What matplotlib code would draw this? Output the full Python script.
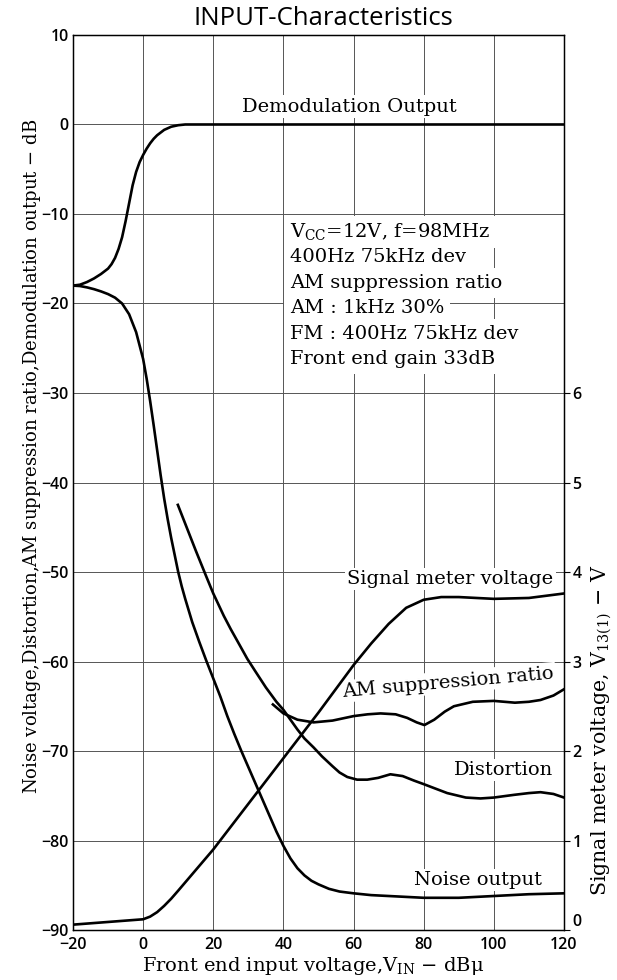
import matplotlib
matplotlib.use("Agg")
import matplotlib.pyplot as plt

plt.rcParams['mathtext.fontset'] = 'dejavuserif'

# front end input voltage V_IN (dBu) and curves in dB
demod_x = [-20, -18, -16, -14, -12, -10, -9, -8, -7, -6, -5, -4, -3, -2, -1, 0, 1, 2, 3,
           4, 6, 8, 10, 12, 120]
demod_db = [-18, -17.9, -17.6, -17.2, -16.7, -16.1, -15.6, -14.9, -13.9, -12.6, -10.8,
            -8.8, -6.8, -5.3, -4.2, -3.4, -2.7, -2.1, -1.6, -1.2, -0.6, -0.25, -0.08, 0, 0]

noise_x = [-20, -18, -16, -14, -12, -10, -8, -6, -4, -2, 0, 1, 2, 3, 4, 5, 6, 7, 8, 10,
           11, 12, 14, 16, 18, 20, 22, 24, 26, 28, 30, 32, 34, 36, 38, 40, 42, 44, 46,
           48, 50, 53, 56, 60, 65, 70, 80, 90, 100, 110, 120]
noise_db = [-18, -18.05, -18.2, -18.4, -18.65, -18.95, -19.35, -20, -21.2, -23.2, -26.2,
            -28.4, -30.9, -33.6, -36.4, -39.2, -41.8, -44.1, -46.2, -50, -51.6, -53,
            -55.6, -57.8, -59.9, -61.9, -63.9, -66.1, -68.1, -70, -71.8, -73.6, -75.4,
            -77.2, -79, -80.6, -82, -83.1, -83.9, -84.5, -84.9, -85.4, -85.7, -85.9,
            -86.1, -86.2, -86.4, -86.4, -86.2, -86, -85.9]

dist_x = [9.9, 12, 15, 18, 20, 23, 25, 27, 29.7, 32, 35, 38, 40, 42, 44, 46, 48.6, 51, 54,
          56, 58.2, 61, 63.9, 67, 70.5, 74, 77.2, 80, 82, 86.7, 92, 96.2, 100, 105.7,
          110, 113.3, 117, 120]
dist_db = [-42.5, -44.6, -47.6, -50.5, -52.4, -54.9, -56.4, -57.8, -59.7, -61.1, -62.9,
           -64.5, -65.4, -66.5, -67.6, -68.6, -69.6, -70.6, -71.7, -72.4, -72.9, -73.2,
           -73.2, -73, -72.6, -72.8, -73.3, -73.7, -74, -74.7, -75.2, -75.3, -75.2,
           -74.9, -74.7, -74.6, -74.8, -75.2]

amsup_x = [37, 40, 44, 48.6, 54, 60, 64, 67.7, 72, 75.3, 78, 80.2, 83, 86, 88.6, 94, 100,
           106, 110, 113.3, 117, 120]
amsup_db = [-64.8, -65.8, -66.5, -66.8, -66.6, -66.1, -65.9, -65.8, -65.9, -66.3, -66.8,
            -67.1, -66.5, -65.6, -65, -64.5, -64.4, -64.6, -64.5, -64.3, -63.8, -63.1]

# signal meter voltage V13(1) in volts (right axis)
meter_x = [-20, -10, 0, 2, 4, 6, 8, 10, 15, 20, 30, 40, 50, 60, 65, 70, 75, 80, 85, 90,
           100, 110, 120]
meter_v = [0.06, 0.09, 0.12, 0.15, 0.2, 0.27, 0.35, 0.44, 0.67, 0.9, 1.41, 1.92, 2.43,
           2.96, 3.2, 3.42, 3.6, 3.69, 3.72, 3.72, 3.7, 3.71, 3.76]

conditions = ["V$_{\\rm CC}$=12V, f=98MHz", "400Hz 75kHz dev", "AM suppression ratio",
              "AM : 1kHz 30%", "FM : 400Hz 75kHz dev", "Front end gain 33dB"]

serif = 'DejaVu Serif'
sans = 'Open Sans'
lw = 1.9
fs = 14

fig = plt.figure(figsize=(6.17, 9.8), dpi=100)
ax = fig.add_axes([0.1183, 0.051, 0.7958, 0.9133])
ax.set_xlim(-20, 120)
ax.set_ylim(-90, 10)
ax.set_xticks(range(-20, 121, 20))
ax.set_yticks(range(-90, 11, 10))
ax.set_xticklabels(['\u221220', '0', '20', '40', '60', '80', '100', '120'],
                   family=sans, fontsize=11.5, fontweight='semibold')
ax.set_yticklabels([('\u2212%d' % -v if v < 0 else str(v)) for v in range(-90, 11, 10)],
                   family=sans, fontsize=11.5, fontweight='semibold')
ax.tick_params(axis='y', length=0, pad=3)
ax.tick_params(axis='x', length=0, pad=5)
ax.set_axisbelow(True)
ax.grid(True, color='#555555', lw=0.7)
for s in ax.spines.values():
    s.set_linewidth(1.0)

ax.plot(demod_x, demod_db, color='black', lw=lw, zorder=3)
ax.plot(noise_x, noise_db, color='black', lw=lw, zorder=3)
ax.plot(dist_x, dist_db, color='black', lw=lw, zorder=3)
ax.plot(amsup_x, amsup_db, color='black', lw=lw, zorder=3)

ax2 = ax.twinx()
ax2.set_ylim(0, 10)
ax2.set_yticks(range(0, 7))
ax2.set_yticklabels([str(v) for v in range(0, 7)], family=sans, fontsize=11.5,
                    fontweight='semibold')
ax2.tick_params(length=4, width=0.8, pad=2)
# the bottom "0" sits a little above the corner, clear of the "120"
ax2.get_yticklabels()[0].set_va('bottom')
ax2.plot(meter_x, meter_v, color='black', lw=lw)

wbox = dict(facecolor='white', edgecolor='none', pad=1.5)
ax.text(58.7, 2.0, "Demodulation Output", family=serif, fontsize=fs, ha='center',
        va='center', bbox=wbox, zorder=2)
for i, line in enumerate(conditions):
    ax.text(41.8, -12.0 - 2.85 * i, line, family=serif, fontsize=fs, ha='left',
            va='center', bbox=dict(facecolor='white', edgecolor='none', pad=4), zorder=2)
ax.text(117, -50.8, "Signal meter voltage", family=serif, fontsize=fs, ha='right',
        va='center', bbox=wbox, zorder=2)
ax.text(117, -61.3, "AM suppression ratio", family=serif, fontsize=fs, ha='right',
        va='center', rotation=5, rotation_mode='anchor', bbox=wbox, zorder=2)
ax.text(117, -72.1, "Distortion", family=serif, fontsize=fs, ha='right',
        va='center', bbox=wbox, zorder=2)
ax.text(113.7, -84.4, "Noise output", family=serif, fontsize=fs, ha='right',
        va='center', bbox=wbox, zorder=2)

fig.text(0.5235, 0.981, "INPUT-Characteristics", family=sans, fontsize=18.5,
         ha='center', va='center')
fig.text(0.507, 0.0143, "Front end input voltage,V$_{\\rm IN}$ $-$ dB\u03bc", family=serif,
         fontsize=fs, ha='center', va='center')
fig.text(0.052, 0.5347,
         "Noise voltage,Distortion,AM suppression ratio,Demodulation output $-$ dB",
         family=serif, fontsize=13, rotation=90, ha='center', va='center')
fig.text(0.9757, 0.255, "Signal meter voltage, V$_{\\rm 13(1)}$ $-$ V", family=serif,
         fontsize=14.8, rotation=90, ha='center', va='center')

fig.savefig("out.png", dpi=100)
